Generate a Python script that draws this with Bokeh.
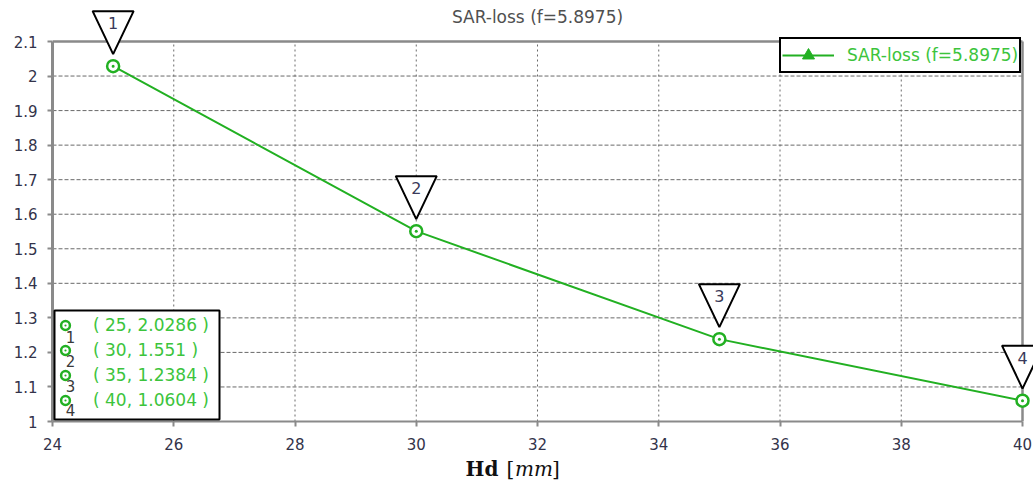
from bokeh.plotting import figure
from bokeh.layouts import column
from bokeh.models import (Range1d, FixedTicker, NumeralTickFormatter, Legend, LegendItem,
                          Label, PolyAnnotation, BoxAnnotation, ColumnDataSource)
from bokeh.embed import file_html
from bokeh.resources import INLINE

# ---- data ----
hd = [25, 30, 35, 40]
sar = [2.0286, 1.551, 1.2384, 1.0604]
marker_ids = ["1", "2", "3", "4"]
x_ticks = [24, 26, 28, 30, 32, 34, 36, 38, 40]
y_ticks = [1.0, 1.1, 1.2, 1.3, 1.4, 1.5, 1.6, 1.7, 1.8, 1.9, 2.0, 2.1]
series_name = "SAR-loss (f=5.8975)"
info_labels = ["( %s, %s )" % (x, y) for x, y in zip(hd, sar)]

# ---- style ----
GREEN = "#22b022"
TEXT_GREEN = "#3cc43c"
TICK_TXT = "#33334a"
GRID = "#6a6a6a"
AXIS = "#8a8a8a"
FONT = "DejaVu Sans"

X0, X1 = x_ticks[0], x_ticks[-1]
Y0, Y1 = y_ticks[0], y_ticks[-1]
W, H = 1033, 455
# pixel box of the axes rectangle (canvas coords)
PX0, PX1 = 52, 1022
PY_TOP, PY_BOT = 41, 421
SX = (PX1 - PX0) / (X1 - X0)
SY = (PY_BOT - PY_TOP) / (Y1 - Y0)
BL, BR, BT, BB = PX0, 0, 0, H - PY_BOT
x_end = X1 + (W - PX1) / SX
y_end = Y1 + PY_TOP / SY

def fx(cx):
    return cx - PX0

def fy(cy):
    return PY_BOT - cy

def dx(cx):
    return X0 + (cx - PX0) / SX

def dy(cy):
    return Y0 + (PY_BOT - cy) / SY

p = figure(width=W, height=H, x_range=Range1d(X0, x_end), y_range=Range1d(Y0, y_end),
           output_backend="svg", toolbar_location=None,
           min_border_left=BL, min_border_right=BR, min_border_top=BT, min_border_bottom=BB,
           background_fill_color="white", border_fill_color="white")
p.outline_line_color = None
p.grid.visible = False

p.xaxis.ticker = FixedTicker(ticks=x_ticks)
p.yaxis.ticker = FixedTicker(ticks=y_ticks)
p.yaxis.formatter = NumeralTickFormatter(format="0.[0]")
p.xaxis.bounds = (X0, X1)
p.yaxis.bounds = (Y0, Y1)
for ax in (p.xaxis, p.yaxis):
    ax.axis_line_color = AXIS
    ax.major_tick_line_color = AXIS
    ax.major_tick_line_width = 2
    ax.major_tick_out = 5
    ax.major_tick_in = 0
    ax.minor_tick_line_color = None
    ax.major_label_text_font = FONT
    ax.major_label_text_font_size = "15px"
    ax.major_label_text_color = TICK_TXT
p.yaxis.axis_line_width = 3
p.xaxis.axis_line_width = 2
p.xaxis.major_label_standoff = 11
p.yaxis.major_label_standoff = 10

# ---- grid & box (from tick lists) ----
inner_x = x_ticks[1:-1]
inner_y = y_ticks[1:-1]
p.segment(x0=inner_x, x1=inner_x, y0=[Y0] * len(inner_x), y1=[Y1] * len(inner_x),
          line_color=GRID, line_dash="2 3", line_width=1)
p.segment(x0=[X0] * len(inner_y), x1=[X1] * len(inner_y), y0=inner_y, y1=inner_y,
          line_color=GRID, line_dash="4 2", line_width=1)
p.segment(x0=[X0], x1=[X1], y0=[Y1], y1=[Y1], line_color=AXIS, line_width=2.5)
p.segment(x0=[X1], x1=[X1], y0=[Y0], y1=[Y1], line_color=AXIS, line_width=2.5)

# ---- series ----
src = ColumnDataSource(dict(x=hd, y=sar))
line_r = p.line("x", "y", source=src, line_color=GREEN, line_width=2)
pts_r = p.scatter("x", "y", source=src, marker="circle_dot", size=12, line_color=GREEN,
                  line_width=2.5, fill_color="white")
# legend-only triangle (zero size on the plot; legend sizes it from its box)
tri_r = p.scatter("x", "y", source=src, marker="triangle", size=0, color=GREEN)

leg = Legend(items=[LegendItem(label=series_name, renderers=[line_r, tri_r])],
             location=(fx(779), fy(73)), margin=0, padding=1, spacing=0,
             glyph_width=52, glyph_height=30, label_height=16, label_standoff=13,
             label_text_color=TEXT_GREEN, label_text_font=FONT,
             label_text_font_size="17px",
             border_line_color="black", border_line_alpha=1, border_line_width=2,
             background_fill_alpha=1)
p.add_layout(leg)

# ---- info box (bottom-left) ----
IB_L, IB_R, IB_T, IB_B = 54, 219, 310, 419
p.add_layout(BoxAnnotation(left=dx(IB_L), right=dx(IB_R), top=dy(IB_T), bottom=dy(IB_B),
                           fill_color="white", fill_alpha=1,
                           line_color="black", line_alpha=1, line_width=2))
INFO_PAD, INFO_ROW, INFO_SP, INFO_GW = 5, 24, 1, 22
info = Legend(items=[LegendItem(label=lab, renderers=[pts_r], index=i)
                     for i, lab in enumerate(info_labels)],
              location=(fx(IB_L), fy(IB_B) + 7), margin=0, padding=INFO_PAD, spacing=INFO_SP,
              glyph_width=INFO_GW, glyph_height=INFO_ROW, label_height=INFO_ROW,
              label_standoff=17,
              label_text_color=TEXT_GREEN, label_text_font=FONT,
              label_text_font_size="17px",
              border_line_color=None, background_fill_alpha=0)
p.add_layout(info)

DIG_X, DIG_Y0, DIG_STEP = 70, 336, 24.5
for i, mid in enumerate(marker_ids):
    p.add_layout(Label(x=fx(DIG_X), y=fy(DIG_Y0 + i * DIG_STEP), x_units="screen",
                       y_units="screen", text=mid, text_align="center", text_baseline="middle",
                       text_font=FONT, text_font_size="15px", text_color="#3a3a3a"))

# ---- triangle point markers ----
hw = 20.5 / SX
gap = 12 / SY
th = 43 / SY
for x, y, mid in zip(hd, sar, marker_ids):
    p.add_layout(PolyAnnotation(xs=[x - hw, x + hw, x], ys=[y + gap + th, y + gap + th, y + gap],
                                fill_color="white", fill_alpha=1,
                                line_color="black", line_alpha=1, line_width=2))
    p.add_layout(Label(x=x, y=y + gap + th - 12 / SY, text=mid, text_align="center",
                       text_baseline="middle", text_font=FONT, text_font_size="16px",
                       text_color="#3a3a5a"))

# ---- title ----
p.add_layout(Label(x=fx(537), y=fy(16), x_units="screen", y_units="screen", text=series_name,
                   text_align="center", text_baseline="middle", text_font=FONT,
                   text_font_size="17px", text_color="#505050"))

# ---- x axis label strip: Hd [mm] ----
LH = 486 - H
q = figure(width=W, height=LH, x_range=Range1d(0, W), y_range=Range1d(0, LH),
           x_axis_type=None, y_axis_type=None, output_backend="svg", toolbar_location=None,
           min_border=0, min_border_left=0, min_border_right=0, min_border_top=0,
           min_border_bottom=0, background_fill_color="white", border_fill_color="white")
q.outline_line_color = None
q.grid.visible = False
SHIFT_X, SHIFT_Y = -28, 8
base = LH - (476 - H) + SHIFT_Y
parts = [("Hd", 463, "bold"), ("[", 506, "normal"), ("mm", 515, "italic"), ("]", 554, "normal")]
for txt, x, style in parts:
    q.add_layout(Label(x=x + SHIFT_X, y=base, text=txt, text_align="left",
                       text_baseline="alphabetic", text_font="DejaVu Serif",
                       text_font_style=style, text_font_size="20px", text_color="#111111"))

open("out.html", "w").write(file_html(column(p, q, spacing=0), INLINE))
